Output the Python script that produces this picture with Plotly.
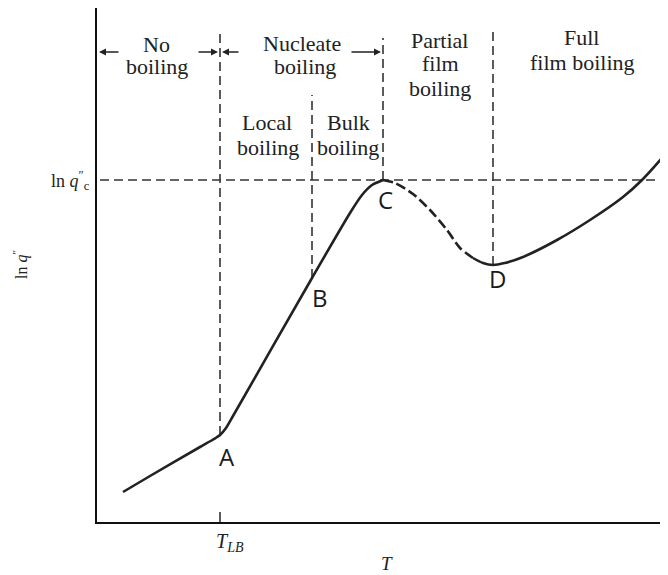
import plotly.graph_objects as go

# Boiling curve (arbitrary units: T horizontally, ln q'' vertically)
T_solid1 = [26, 53, 103, 117, 123, 129, 136, 215, 253, 265, 275, 286]
q_solid1 = [30, 46, 75, 83, 87, 94, 106, 244, 309, 327, 337, 342]
T_dash = [286, 298, 316, 333, 350, 363, 376]
q_dash = [342, 339, 328, 312, 292, 274, 264]
T_solid2 = [376, 386, 396, 408, 426, 460, 493, 526, 545, 571]
q_solid2 = [264, 259, 257, 259, 265, 282, 302, 325, 342, 371]

T_LB = 123
T_B = 215
T_C = 286
T_D = 396
lnq_c = 342
points = ["A", "B", "C", "D"]
point_T = [130, 223, 288, 400]
point_q = [66, 225, 323, 244]

region_lines = ["No", "boiling", "Nucleate", "boiling", "Local", "boiling", "Bulk", "boiling",
                "Partial", "film", "boiling", "Full", "film boiling"]
region_T = [59, 60, 205, 208, 170, 171, 251, 251, 342, 343, 343, 484, 485]
region_q = [478, 456, 479, 456, 400, 375, 400, 375, 482, 459, 434, 485, 460]

X_MAX, Y_MAX = 571, 514
CURVE = "#222222"
DASH = "#333333"

fig = go.Figure()
fig.add_trace(go.Scatter(x=T_solid1, y=q_solid1, mode="lines",
                         line=dict(color=CURVE, width=2.6, shape="spline", smoothing=0.6), hoverinfo="skip"))
fig.add_trace(go.Scatter(x=T_dash, y=q_dash, mode="lines",
                         line=dict(color=CURVE, width=2.6, shape="spline", smoothing=0.8, dash="10px,4px"),
                         hoverinfo="skip"))
fig.add_trace(go.Scatter(x=T_solid2, y=q_solid2, mode="lines",
                         line=dict(color=CURVE, width=2.6, shape="spline", smoothing=1.0), hoverinfo="skip"))

dl = dict(color=DASH, width=1.6, dash="9px,5px")
shapes = [
    dict(type="line", x0=3, x1=X_MAX, y0=lnq_c, y1=lnq_c, line=dl),
    dict(type="line", x0=T_LB, x1=T_LB, y0=87, y1=492, line=dl),
    dict(type="line", x0=T_LB, x1=T_LB, y0=0, y1=10, line=dict(color=DASH, width=1.6)),
    dict(type="line", x0=T_B, x1=T_B, y0=244, y1=427, line=dl),
    dict(type="line", x0=T_C, x1=T_C, y0=342, y1=484, line=dl),
    dict(type="line", x0=T_D, x1=T_D, y0=257, y1=492, line=dl),
]
for s in shapes:
    s.update(xref="x", yref="y", layer="below")
fig.update_layout(shapes=shapes)

serif = dict(family="Liberation Serif", size=22, color="#222")
ann = []
for txt, x, y in zip(region_lines, region_T, region_q):
    ann.append(dict(x=x, y=y, text=txt, showarrow=False, font=serif, xref="x", yref="y",
                    xanchor="center", yanchor="middle"))

# arrows
arrows = [((23, 470), (2, 470)), ((100, 470), (121, 470)), ((143, 470), (125, 470)), ((253, 470), (284, 470))]
for (tx, ty), (hx, hy) in arrows:
    ann.append(dict(x=hx, y=hy, ax=tx, ay=ty, axref="x", ayref="y", xref="x", yref="y",
                    showarrow=True, arrowhead=2, arrowsize=1, arrowwidth=1.4, arrowcolor="#222", text=""))

sans = dict(family="Open Sans, Noto Sans, sans-serif", size=24, color="#1a1a1a")
for p, x, y in zip(points, point_T, point_q):
    ann.append(dict(x=x, y=y, text=p, showarrow=False, font=sans, xref="x", yref="y",
                    xanchor="center", yanchor="middle"))

ann.append(dict(x=-5 / X_MAX, y=lnq_c / Y_MAX, text="ln <i>q</i><sup>″</sup><sub>c</sub>", showarrow=False,
                xanchor="right", yanchor="middle", font=dict(family="Liberation Serif", size=18, color="#222"),
                xref="paper", yref="paper"))
ann.append(dict(x=-77 / X_MAX, y=257 / Y_MAX, text="ln <i>q</i><sup>″</sup>", showarrow=False, textangle=-90,
                xanchor="center", yanchor="middle",
                font=dict(family="Liberation Serif", size=16, color="#222"), xref="paper", yref="paper"))
ann.append(dict(x=133 / X_MAX, y=-20 / Y_MAX, text="<i>T</i><sub><i>LB</i></sub>", showarrow=False,
                xanchor="center", yanchor="middle",
                font=dict(family="Liberation Serif", size=20, color="#222"), xref="paper", yref="paper"))
ann.append(dict(x=290 / X_MAX, y=-41 / Y_MAX, text="<i>T</i>", showarrow=False,
                xanchor="center", yanchor="middle",
                font=dict(family="Liberation Serif", size=19, color="#222"), xref="paper", yref="paper"))
fig.update_layout(annotations=ann)

# the page body adds an 8px offset, so the figure is 8px smaller and margins compensate
fig.update_layout(
    width=660, height=567,
    margin=dict(l=89, r=0, t=0, b=53),
    paper_bgcolor="white", plot_bgcolor="white",
    showlegend=False,
    xaxis=dict(range=[0, X_MAX], showgrid=False, zeroline=False, showticklabels=False, ticks="",
               showline=True, linecolor="#111", linewidth=2, fixedrange=True),
    yaxis=dict(range=[0, Y_MAX], showgrid=False, zeroline=False, showticklabels=False, ticks="",
               showline=True, linecolor="#111", linewidth=2, fixedrange=True),
)

fig.write_html("out.html")
